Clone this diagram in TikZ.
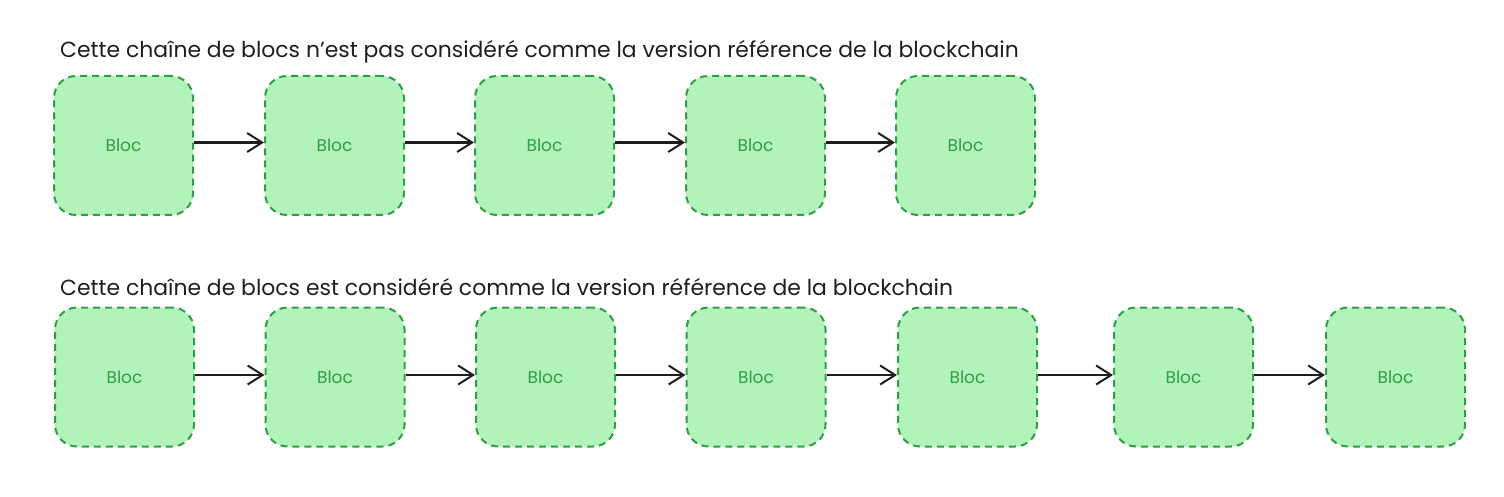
\documentclass[tikz,border=0pt]{standalone}
\usepackage{fontspec}
\setmainfont{Poppins}
\usetikzlibrary{arrows.meta}
\definecolor{blocfill}{HTML}{B2F2BB}
\definecolor{blocline}{HTML}{2F9E44}
\definecolor{ink}{HTML}{1E1E1E}
\tikzset{
  bloc/.style={draw=blocline, fill=blocfill, line width=2pt, dash pattern=on 7pt off 5pt,
    rounded corners=22pt, minimum width=139pt, minimum height=139pt, inner sep=0pt,
    text=blocline, font=\fontsize{17}{19}\selectfont},
  link/.style={draw=ink, line width=2.2pt, -{Straight Barb[length=15pt,width=19pt,line width=2pt]}},
  titre/.style={anchor=west, text=ink, font=\fontsize{21.9}{24}\selectfont, inner sep=0pt}
}
\begin{document}
\begin{tikzpicture}[x=1pt,y=-1pt]
\useasboundingbox (0,0) rectangle (1504,497);
\node[titre] (t1) at (60,52) {Cette chaîne de blocs n'est pas considéré comme la version référence de la blockchain};
\node[titre] (t2) at (60,287) {Cette chaîne de blocs est considéré comme la version référence de la blockchain};
\foreach \i/\x in {1/123.5,2/334.5,3/544.5,4/755.5,5/965.5}{
  \node[bloc] (a\i) at (\x,145.5) {Bloc};
}
\foreach \i/\x in {1/124.5,2/335,3/545.5,4/756,5/967.5,6/1183.5,7/1395.5}{
  \node[bloc] (b\i) at (\x,377) {Bloc};
}
\foreach \i/\j in {1/2,2/3,3/4,4/5}{
  \draw[link] ([yshift=3pt]a\i.east) -- ([yshift=3pt]a\j.west);
}
\foreach \i/\j in {1/2,2/3,3/4,4/5,5/6,6/7}{
  \draw[link] ([yshift=2pt]b\i.east) -- ([yshift=2pt]b\j.west);
}
\end{tikzpicture}
\end{document}
